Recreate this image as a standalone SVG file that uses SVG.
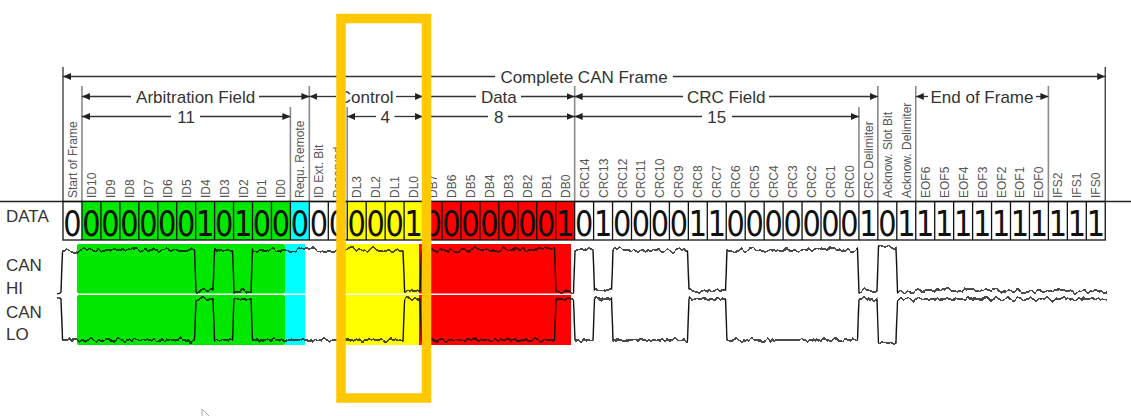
<svg xmlns="http://www.w3.org/2000/svg" width="1131" height="416" viewBox="0 0 1131 416">
<style>
.hdr{font-family:"Liberation Sans",Arial,sans-serif;font-size:17px;fill:#333;text-anchor:middle}
.dim{stroke:#333;stroke-width:1.3;fill:none}
.vl{stroke:#8a8a8a;stroke-width:1.6;fill:none}
.vd{stroke:#333;stroke-width:1.3;fill:none}
.lbl{font-family:"Liberation Sans",Arial,sans-serif;font-size:12px;fill:#555}
.bit{font-family:"DejaVu Sans","Liberation Sans",sans-serif;font-size:36px;fill:#111;text-anchor:middle}
.side{font-family:"Liberation Sans",Arial,sans-serif;font-size:17px;fill:#333}
.wave{stroke:#111;stroke-width:1.4;fill:none;stroke-linejoin:round}
</style>
<defs>
<marker id="ah" viewBox="0 0 8 7" refX="8" refY="3.5" markerWidth="8" markerHeight="7" markerUnits="userSpaceOnUse" orient="auto-start-reverse">
<path d="M0,0 L8,3.5 L0,7 z" fill="#222"/>
</marker>
<filter id="noise" x="0" y="0" width="1131" height="416" filterUnits="userSpaceOnUse" color-interpolation-filters="sRGB">
<feTurbulence type="fractalNoise" baseFrequency="0.18 0.05" numOctaves="2" seed="4" result="t"/>
<feColorMatrix in="t" type="matrix" values="0 0 0 0 0.5  0 1 0 0 0  0 0 1 0 0  0 0 0 0 1" result="m"/>
<feDisplacementMap in="SourceGraphic" in2="m" scale="9" xChannelSelector="R" yChannelSelector="G"/>
</filter>
</defs>
<rect width="1131" height="416" fill="#fff"/>

<g id="connectors">
<path class="vd" d="M63,67V201.5 M1105.25,67V201.5"/>
<path class="vl" d="M81.95,86V201.5 M290.4,107V201.5 M309.35,86V201.5 M347.25,107V201.5 M423.05,86V201.5 M574.65,86V201.5 M858.9,107V201.5 M877.85,86V201.5 M915.75,86V201.5 M1048.4,86V201.5"/>
<g id="dim-frame">
<path class="dim" d="M63,76.5H495" marker-start="url(#ah)"/>
<path class="dim" d="M673,76.5H1105.25" marker-end="url(#ah)"/>
</g>
<g id="dim-arbitration">
<path class="dim" d="M81.95,96.5H131" marker-start="url(#ah)"/>
<path class="dim" d="M259,96.5H309.35" marker-end="url(#ah)"/>
<path class="dim" d="M81.95,116.5H171" marker-start="url(#ah)"/>
<path class="dim" d="M200,116.5H290.4" marker-end="url(#ah)"/>
</g>
<g id="dim-control">
<path class="dim" d="M309.35,96.5H336" marker-start="url(#ah)"/>
<path class="dim" d="M396,96.5H423.05" marker-end="url(#ah)"/>
<path class="dim" d="M347.25,116.5H376" marker-start="url(#ah)"/>
<path class="dim" d="M394.5,116.5H423.05" marker-end="url(#ah)"/>
</g>
<g id="dim-data">
<path class="dim" d="M423.05,96.5H476" marker-start="url(#ah)"/>
<path class="dim" d="M521,96.5H574.65" marker-end="url(#ah)"/>
<path class="dim" d="M423.05,116.5H488" marker-start="url(#ah)"/>
<path class="dim" d="M508,116.5H574.65" marker-end="url(#ah)"/>
</g>
<g id="dim-crc">
<path class="dim" d="M574.65,96.5H683" marker-start="url(#ah)"/>
<path class="dim" d="M769,96.5H877.85" marker-end="url(#ah)"/>
<path class="dim" d="M574.65,116.5H702" marker-start="url(#ah)"/>
<path class="dim" d="M732,116.5H858.9" marker-end="url(#ah)"/>
</g>
<g id="dim-eof">
<path class="dim" d="M915.75,96.5H928" marker-start="url(#ah)"/>
<path class="dim" d="M1036,96.5H1048.4" marker-end="url(#ah)"/>
</g>
</g>

<g id="headers">
<text class="hdr" x="584" y="82.5">Complete CAN Frame</text>
<text class="hdr" x="195.6" y="102.5">Arbitration Field</text>
<text class="hdr" x="366.2" y="102.5">Control</text>
<text class="hdr" x="498.85" y="102.5">Data</text>
<text class="hdr" x="726.25" y="102.5">CRC Field</text>
<text class="hdr" x="982" y="102.5">End of Frame</text>
<text class="hdr" x="186.2" y="122.5">11</text>
<text class="hdr" x="385.15" y="122.5">4</text>
<text class="hdr" x="498.85" y="122.5">8</text>
<text class="hdr" x="716.8" y="122.5">15</text>
</g>

<g id="bit-labels">
<text class="lbl" transform="translate(76.9,198) rotate(-90)">Start of Frame</text>
<text class="lbl" transform="translate(95.9,198) rotate(-90)">ID10</text>
<text class="lbl" transform="translate(114.8,198) rotate(-90)">ID9</text>
<text class="lbl" transform="translate(133.8,198) rotate(-90)">ID8</text>
<text class="lbl" transform="translate(152.7,198) rotate(-90)">ID7</text>
<text class="lbl" transform="translate(171.7,198) rotate(-90)">ID6</text>
<text class="lbl" transform="translate(190.6,198) rotate(-90)">ID5</text>
<text class="lbl" transform="translate(209.6,198) rotate(-90)">ID4</text>
<text class="lbl" transform="translate(228.5,198) rotate(-90)">ID3</text>
<text class="lbl" transform="translate(247.5,198) rotate(-90)">ID2</text>
<text class="lbl" transform="translate(266.4,198) rotate(-90)">ID1</text>
<text class="lbl" transform="translate(285.4,198) rotate(-90)">ID0</text>
<text class="lbl" transform="translate(304.3,198) rotate(-90)">Requ. Remote</text>
<text class="lbl" transform="translate(323.3,198) rotate(-90)">ID Ext. Bit</text>
<text class="lbl" transform="translate(342.2,198) rotate(-90)">Reserved</text>
<text class="lbl" transform="translate(361.2,198) rotate(-90)">DL3</text>
<text class="lbl" transform="translate(380.1,198) rotate(-90)">DL2</text>
<text class="lbl" transform="translate(399.1,198) rotate(-90)">DL1</text>
<text class="lbl" transform="translate(418,198) rotate(-90)">DL0</text>
<text class="lbl" transform="translate(437,198) rotate(-90)">DB7</text>
<text class="lbl" transform="translate(455.9,198) rotate(-90)">DB6</text>
<text class="lbl" transform="translate(474.9,198) rotate(-90)">DB5</text>
<text class="lbl" transform="translate(493.8,198) rotate(-90)">DB4</text>
<text class="lbl" transform="translate(512.8,198) rotate(-90)">DB3</text>
<text class="lbl" transform="translate(531.7,198) rotate(-90)">DB2</text>
<text class="lbl" transform="translate(550.7,198) rotate(-90)">DB1</text>
<text class="lbl" transform="translate(569.6,198) rotate(-90)">DB0</text>
<text class="lbl" transform="translate(588.6,198) rotate(-90)">CRC14</text>
<text class="lbl" transform="translate(607.5,198) rotate(-90)">CRC13</text>
<text class="lbl" transform="translate(626.5,198) rotate(-90)">CRC12</text>
<text class="lbl" transform="translate(645.4,198) rotate(-90)">CRC11</text>
<text class="lbl" transform="translate(664.4,198) rotate(-90)">CRC10</text>
<text class="lbl" transform="translate(683.3,198) rotate(-90)">CRC9</text>
<text class="lbl" transform="translate(702.3,198) rotate(-90)">CRC8</text>
<text class="lbl" transform="translate(721.2,198) rotate(-90)">CRC7</text>
<text class="lbl" transform="translate(740.2,198) rotate(-90)">CRC6</text>
<text class="lbl" transform="translate(759.1,198) rotate(-90)">CRC5</text>
<text class="lbl" transform="translate(778.1,198) rotate(-90)">CRC4</text>
<text class="lbl" transform="translate(797,198) rotate(-90)">CRC3</text>
<text class="lbl" transform="translate(816,198) rotate(-90)">CRC2</text>
<text class="lbl" transform="translate(834.9,198) rotate(-90)">CRC1</text>
<text class="lbl" transform="translate(853.9,198) rotate(-90)">CRC0</text>
<text class="lbl" transform="translate(872.8,198) rotate(-90)">CRC Delimiter</text>
<text class="lbl" transform="translate(891.8,198) rotate(-90)">Acknow. Slot Bit</text>
<text class="lbl" transform="translate(910.7,198) rotate(-90)">Acknow. Delimiter</text>
<text class="lbl" transform="translate(929.7,198) rotate(-90)">EOF6</text>
<text class="lbl" transform="translate(948.6,198) rotate(-90)">EOF5</text>
<text class="lbl" transform="translate(967.6,198) rotate(-90)">EOF4</text>
<text class="lbl" transform="translate(986.5,198) rotate(-90)">EOF3</text>
<text class="lbl" transform="translate(1005.5,198) rotate(-90)">EOF2</text>
<text class="lbl" transform="translate(1024.4,198) rotate(-90)">EOF1</text>
<text class="lbl" transform="translate(1043.4,198) rotate(-90)">EOF0</text>
<text class="lbl" transform="translate(1062.3,198) rotate(-90)">IFS2</text>
<text class="lbl" transform="translate(1081.3,198) rotate(-90)">IFS1</text>
<text class="lbl" transform="translate(1100.2,198) rotate(-90)">IFS0</text>
</g>

<g id="data-row">
<line x1="0" y1="201.5" x2="1131" y2="201.5" stroke="#222" stroke-width="1.3"/>
<text class="side" x="6" y="222">DATA</text>
<rect x="81.95" y="201.5" width="208.45" height="38.5" fill="#00e800"/>
<rect x="290.4" y="201.5" width="18.95" height="38.5" fill="#00ffff"/>
<rect x="347.25" y="201.5" width="75.8" height="38.5" fill="#ffff00"/>
<rect x="423.05" y="201.5" width="151.6" height="38.5" fill="#ff0000"/>
<rect x="63" y="201.5" width="1042.25" height="38.5" fill="none" stroke="#111" stroke-width="1.3"/>
<path stroke="#111" stroke-width="1.3" fill="none" d="M81.95,201.5V240 M100.9,201.5V240 M119.85,201.5V240 M138.8,201.5V240 M157.75,201.5V240 M176.7,201.5V240 M195.65,201.5V240 M214.6,201.5V240 M233.55,201.5V240 M252.5,201.5V240 M271.45,201.5V240 M290.4,201.5V240 M309.35,201.5V240 M328.3,201.5V240 M347.25,201.5V240 M366.2,201.5V240 M385.15,201.5V240 M404.1,201.5V240 M423.05,201.5V240 M442,201.5V240 M460.95,201.5V240 M479.9,201.5V240 M498.85,201.5V240 M517.8,201.5V240 M536.75,201.5V240 M555.7,201.5V240 M574.65,201.5V240 M593.6,201.5V240 M612.55,201.5V240 M631.5,201.5V240 M650.45,201.5V240 M669.4,201.5V240 M688.35,201.5V240 M707.3,201.5V240 M726.25,201.5V240 M745.2,201.5V240 M764.15,201.5V240 M783.1,201.5V240 M802.05,201.5V240 M821,201.5V240 M839.95,201.5V240 M858.9,201.5V240 M877.85,201.5V240 M896.8,201.5V240 M915.75,201.5V240 M934.7,201.5V240 M953.65,201.5V240 M972.6,201.5V240 M991.55,201.5V240 M1010.5,201.5V240 M1029.45,201.5V240 M1048.4,201.5V240 M1067.35,201.5V240 M1086.3,201.5V240"/>
<g id="bit-values">
<text class="bit" transform="translate(72.48,236) scale(0.8,1)">0</text>
<text class="bit" transform="translate(91.43,236) scale(0.8,1)">0</text>
<text class="bit" transform="translate(110.38,236) scale(0.8,1)">0</text>
<text class="bit" transform="translate(129.33,236) scale(0.8,1)">0</text>
<text class="bit" transform="translate(148.28,236) scale(0.8,1)">0</text>
<text class="bit" transform="translate(167.23,236) scale(0.8,1)">0</text>
<text class="bit" transform="translate(186.18,236) scale(0.8,1)">0</text>
<text class="bit" transform="translate(205.13,236) scale(0.8,1)">1</text>
<text class="bit" transform="translate(224.08,236) scale(0.8,1)">0</text>
<text class="bit" transform="translate(243.03,236) scale(0.8,1)">1</text>
<text class="bit" transform="translate(261.98,236) scale(0.8,1)">0</text>
<text class="bit" transform="translate(280.93,236) scale(0.8,1)">0</text>
<text class="bit" transform="translate(299.88,236) scale(0.8,1)">0</text>
<text class="bit" transform="translate(318.83,236) scale(0.8,1)">0</text>
<text class="bit" transform="translate(337.78,236) scale(0.8,1)">0</text>
<text class="bit" transform="translate(356.73,236) scale(0.8,1)">0</text>
<text class="bit" transform="translate(375.68,236) scale(0.8,1)">0</text>
<text class="bit" transform="translate(394.63,236) scale(0.8,1)">0</text>
<text class="bit" transform="translate(413.58,236) scale(0.8,1)">1</text>
<text class="bit" transform="translate(432.53,236) scale(0.8,1)">0</text>
<text class="bit" transform="translate(451.48,236) scale(0.8,1)">0</text>
<text class="bit" transform="translate(470.43,236) scale(0.8,1)">0</text>
<text class="bit" transform="translate(489.38,236) scale(0.8,1)">0</text>
<text class="bit" transform="translate(508.33,236) scale(0.8,1)">0</text>
<text class="bit" transform="translate(527.28,236) scale(0.8,1)">0</text>
<text class="bit" transform="translate(546.23,236) scale(0.8,1)">0</text>
<text class="bit" transform="translate(565.18,236) scale(0.8,1)">1</text>
<text class="bit" transform="translate(584.13,236) scale(0.8,1)">0</text>
<text class="bit" transform="translate(603.08,236) scale(0.8,1)">1</text>
<text class="bit" transform="translate(622.03,236) scale(0.8,1)">0</text>
<text class="bit" transform="translate(640.98,236) scale(0.8,1)">0</text>
<text class="bit" transform="translate(659.93,236) scale(0.8,1)">0</text>
<text class="bit" transform="translate(678.88,236) scale(0.8,1)">0</text>
<text class="bit" transform="translate(697.83,236) scale(0.8,1)">1</text>
<text class="bit" transform="translate(716.78,236) scale(0.8,1)">1</text>
<text class="bit" transform="translate(735.73,236) scale(0.8,1)">0</text>
<text class="bit" transform="translate(754.68,236) scale(0.8,1)">0</text>
<text class="bit" transform="translate(773.63,236) scale(0.8,1)">0</text>
<text class="bit" transform="translate(792.58,236) scale(0.8,1)">0</text>
<text class="bit" transform="translate(811.53,236) scale(0.8,1)">0</text>
<text class="bit" transform="translate(830.48,236) scale(0.8,1)">0</text>
<text class="bit" transform="translate(849.43,236) scale(0.8,1)">0</text>
<text class="bit" transform="translate(868.38,236) scale(0.8,1)">1</text>
<text class="bit" transform="translate(887.33,236) scale(0.8,1)">0</text>
<text class="bit" transform="translate(906.28,236) scale(0.8,1)">1</text>
<text class="bit" transform="translate(925.23,236) scale(0.8,1)">1</text>
<text class="bit" transform="translate(944.18,236) scale(0.8,1)">1</text>
<text class="bit" transform="translate(963.13,236) scale(0.8,1)">1</text>
<text class="bit" transform="translate(982.08,236) scale(0.8,1)">1</text>
<text class="bit" transform="translate(1001.03,236) scale(0.8,1)">1</text>
<text class="bit" transform="translate(1019.98,236) scale(0.8,1)">1</text>
<text class="bit" transform="translate(1038.93,236) scale(0.8,1)">1</text>
<text class="bit" transform="translate(1057.88,236) scale(0.8,1)">1</text>
<text class="bit" transform="translate(1076.83,236) scale(0.8,1)">1</text>
<text class="bit" transform="translate(1095.78,236) scale(0.8,1)">1</text>
</g>
</g>

<g id="can-signals">
<text class="side" x="6" y="271">CAN</text>
<text class="side" x="6" y="294">HI</text>
<text class="side" x="6" y="318">CAN</text>
<text class="side" x="6" y="340">LO</text>
<g id="field-shading">
<rect x="77" y="244" width="208" height="49.5" rx="2" fill="#00e800"/>
<rect x="77" y="295" width="208" height="50" rx="2" fill="#00e800"/>
<rect x="285" y="244" width="20" height="49.5" fill="#00ffff"/>
<rect x="285" y="295" width="20" height="50" fill="#00ffff"/>
<rect x="345" y="244" width="74" height="49.5" fill="#ffff00"/>
<rect x="345" y="295" width="74" height="50" fill="#ffff00"/>
<rect x="419" y="244" width="152" height="49.5" fill="#ff0000"/>
<rect x="419" y="295" width="152" height="50" fill="#ff0000"/>
</g>
<g filter="url(#noise)">
<path id="can-hi" class="wave" d="M57,292.5 Q60,293 61,291 L62.5,250 L194.5,250 L196,291 L213,291 L214.6,250 L232.5,250 L234,291 L251,291 L252.5,250 L403,250 L404.6,291 L420,291 L421.5,250 L554.5,250 L556,291 L573.5,291 L575,250 L593,250 L594.5,291 L611.5,291 L613,250 L687.5,250 L689,291 L725.5,291 L727,250 L857.5,250 L859,291 L877,291 L878.5,247 L896,247 L897.5,291 L1107,291"/>
<path id="can-lo" class="wave" d="M57,298 Q60,297.5 61,299 L62.5,340 L194.5,340 L196,299 L213,299 L214.6,340 L232.5,340 L234,299 L251,299 L252.5,340 L403,340 L404.6,299 L420,299 L421.5,340 L554.5,340 L556,299 L573.5,299 L575,340 L593,340 L594.5,299 L611.5,299 L613,340 L687.5,340 L689,299 L725.5,299 L727,340 L857.5,340 L859,299 L877,299 L878.5,343 L896,343 L897.5,299 L1107,299"/>
</g>
</g>

<rect id="highlight" x="341" y="18.5" width="85.5" height="379.5" fill="none" stroke="#ffc800" stroke-width="9.5"/>
<path id="cursor" d="M202,409 V416 M202,409 L209,416" stroke="#aaa" stroke-width="1" fill="none"/>
</svg>
